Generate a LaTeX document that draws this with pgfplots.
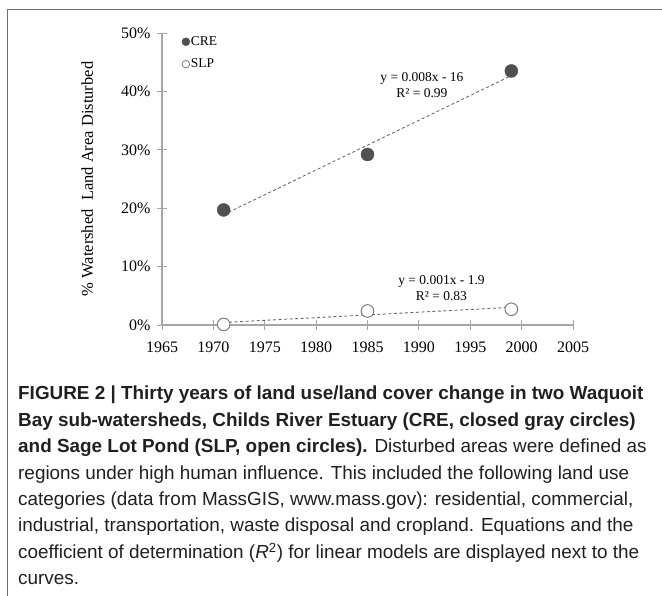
\documentclass[border=0pt]{standalone}
\usepackage{fontspec}
\setmainfont{Liberation Serif}
\newfontfamily\capfont{Liberation Sans}
\usepackage{pgfplots}
\pgfplotsset{compat=1.18}
\definecolor{axgray}{HTML}{A6A6A6}
\definecolor{cregray}{HTML}{505050}
\definecolor{slpgray}{HTML}{7F7F7F}
\definecolor{framegray}{HTML}{6E6E6E}
\definecolor{dashgray}{HTML}{6A6A6A}
\definecolor{captext}{HTML}{231F20}
\begin{document}
\begin{tikzpicture}[x=1pt,y=1pt]
\useasboundingbox (0,0) rectangle (662,-595);
\draw[framegray, line width=1.6pt] (7.5,-600) -- (7.5,-9.5) -- (670,-9.5);
\begin{axis}[
  at={(162pt,-325pt)}, anchor=south west,
  scale only axis, width=411pt, height=292pt,
  xmin=1965, xmax=2005, ymin=0, ymax=50,
  clip=false,
  axis x line=bottom, axis y line=left,
  axis line style={-, axgray, line width=1.1pt},
  xtick={1965,1970,...,2005}, ytick={0,10,...,50},
  tick align=center, major tick length=10pt,
  tick style={axgray, line width=1pt},
  /pgf/number format/assume math mode=true,
  /pgf/number format/1000 sep={},
  ticklabel style={font=\fontsize{16}{16}\selectfont, text=black},
  yticklabel={\pgfmathprintnumber{\tick}\%},
  yticklabel style={xshift=-3pt},
  xticklabel style={yshift=-8pt},
  legend image code/.code={\draw[#1] plot coordinates {(0pt,0pt)};},
  legend style={at={(rel axis cs:0.048,0.992)}, anchor=north west, draw=none, fill=none,
    font=\fontsize{13.5}{13.5}\selectfont, row sep=10pt, inner sep=0pt,
    nodes={inner sep=1pt}},
  legend cell align=left,
]
\addplot[dashgray, line width=0.9pt, dash pattern=on 3pt off 2.5pt, forget plot] coordinates {(1971,18.9) (1999,42.7)};
\addplot[dashgray, line width=0.9pt, dash pattern=on 3pt off 2.5pt, forget plot] coordinates {(1971,0.43) (1999,3.03)};
\addplot[only marks, mark=*, mark size=6.5pt, mark options={fill=cregray, draw=cregray}, forget plot] coordinates {(1971,19.7) (1985,29.2) (1999,43.5)};
\addplot[only marks, mark=*, mark size=6.3pt, mark options={fill=white, draw=slpgray, line width=1pt}, forget plot] coordinates {(1971,0.1) (1985,2.4) (1999,2.7)};
\addlegendimage{only marks, mark=*, mark size=4pt, mark options={fill=cregray, draw=cregray}}
\addlegendentry{CRE}
\addlegendimage{only marks, mark=*, mark size=3.8pt, mark options={fill=white, draw=slpgray, line width=0.8pt}}
\addlegendentry{SLP}
\node[font=\fontsize{13.5}{16}\selectfont, align=center] at (axis cs:1990.3,41.1) {y = 0.008x - 16\\R² = 0.99};
\node[font=\fontsize{13.5}{16}\selectfont, align=center] at (axis cs:1992.2,6.25) {y = 0.001x - 1.9\\R² = 0.83};
\node[font=\fontsize{16.5}{16.5}\selectfont, rotate=90] at (rel axis cs:-0.182,0.5) {\% Watershed\ \ Land Area Disturbed};
\end{axis}
\node[anchor=north west, inner sep=0pt, align=left, text=captext,
  font=\capfont\fontsize{18.9}{26.4}\selectfont] at (18,-386) {%
\textbf{FIGURE 2 | Thirty years of land use/land cover change in two Waquoit}\\
\textbf{Bay sub-watersheds, Childs River Estuary (CRE, closed gray circles)}\\
\textbf{and Sage Lot Pond (SLP, open circles).} Disturbed areas were defined as\\
regions under high human influence. This included the following land use\\
categories (data from MassGIS, www.mass.gov): residential, commercial,\\
industrial, transportation, waste disposal and cropland. Equations and the\\
coefficient of determination (\textit{R}\textsuperscript{2}) for linear models are displayed next to the\\
curves.};
\end{tikzpicture}
\end{document}
